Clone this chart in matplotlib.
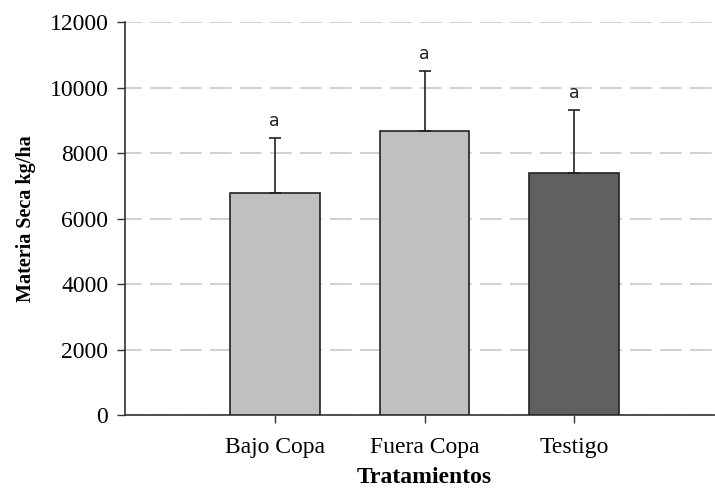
import matplotlib.pyplot as plt

# data
tratamientos = ['Bajo Copa', 'Fuera Copa', 'Testigo']
materia_seca = [6770, 8660, 7380]
error_sup = [1680, 1850, 1930]
letras = ['a', 'a', 'a']
colores = ['#c0c0c0', '#c0c0c0', '#606060']

plt.rcParams['font.family'] = ['Liberation Serif', 'DejaVu Serif']

fig = plt.figure(figsize=(7.15, 4.9), dpi=100)
ax = fig.add_axes([125 / 715, 75 / 490, 599 / 715, 393 / 490])

x = list(range(len(tratamientos)))
ax.bar(x, materia_seca, width=0.6, color=colores, edgecolor='#222222',
       linewidth=1.2, zorder=3)
ax.errorbar(x, materia_seca, yerr=[[0] * len(x), error_sup], fmt='none',
            ecolor='#222222', elinewidth=1.2, capsize=4.5, capthick=1.2, zorder=4)

for xi, v, e, l in zip(x, materia_seca, error_sup, letras):
    ax.text(xi, v + e + 250, l, ha='center', va='bottom', fontsize=12.5,
            family='DejaVu Sans', color='#222222')

ax.set_xlim(-1, 3)
ax.set_ylim(0, 12000)
ax.set_yticks(range(0, 12001, 2000))
ax.set_xticks(x)
ax.set_xticklabels(tratamientos)
ax.tick_params(axis='both', labelsize=17, length=6, width=1, color='#333333', pad=6)
ax.tick_params(axis='x', pad=10)

ax.grid(axis='y', color='#c8c8c8', linestyle=(3, (13, 5)), linewidth=1.2, zorder=0)
ax.set_axisbelow(True)

for s in ['top', 'right']:
    ax.spines[s].set_visible(False)
for s in ['left', 'bottom']:
    ax.spines[s].set_color('#333333')
    ax.spines[s].set_linewidth(1.2)

ax.set_xlabel('Tratamientos', fontsize=17, fontweight='bold', labelpad=6)
ax.set_ylabel('Materia Seca kg/ha', fontsize=14.5, fontweight='bold', labelpad=10)

fig.savefig('out.png', dpi=100)
